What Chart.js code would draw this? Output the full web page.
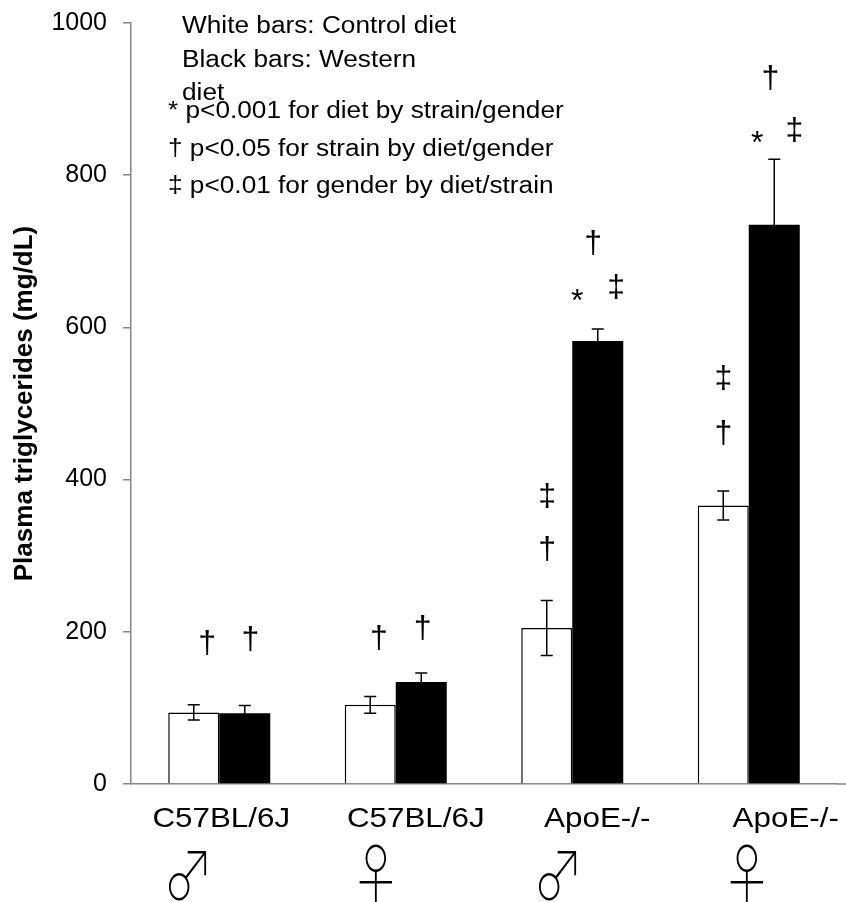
<!DOCTYPE html>
<html>
<head>
<meta charset="utf-8">
<script src="https://cdn.jsdelivr.net/npm/chart.js@4"></script>
<style>
  html, body { margin: 0; padding: 0; background: #fff; }
  #wrap { width: 846px; height: 902px; }
</style>
</head>
<body>
<div id="wrap"><canvas id="chart" width="846" height="902"></canvas></div>
<script>
// ---- data ----
const strains = ['C57BL/6J', 'C57BL/6J', 'ApoE-/-', 'ApoE-/-'];
const genders = ['\u2642', '\u2640', '\u2642', '\u2640'];
const controlDiet = [94, 104, 205, 366];
const controlErr = [10, 11, 36, 19];
const westernDiet = [93, 134, 582, 735];
const westernErr = [10, 12, 16, 86];
const yTicks = [0, 200, 400, 600, 800, 1000];

// significance marks: category, offset inside the category, value, symbol
const markCat = [0, 0, 1, 1, 2, 2, 2, 2, 2, 3, 3, 3, 3, 3];
const markOffset = [-0.068, 0.176, -0.096, 0.153, -0.142, -0.142, 0.119, 0.028, 0.249, -0.144, -0.144, 0.122, 0.048, 0.258];
const markValue = [184, 189, 190, 204, 377, 307, 710, 633, 652, 532, 460, 926, 841, 858];
const markSymbol = ['\u2020', '\u2020', '\u2020', '\u2020', '\u2021', '\u2020', '\u2020', '*', '\u2021', '\u2021', '\u2020', '\u2020', '*', '\u2021'];

const notes = ['White bars: Control diet', 'Black bars: Western', 'diet'];
const keys = [
  '* p<0.001 for diet by strain/gender',
  '\u2020 p<0.05 for strain by diet/gender',
  '\u2021 p<0.01 for gender by diet/strain'
];

const axisGray = '#868686';
const sans = '"Liberation Sans", Arial, sans-serif';

// stretched text, like the original picture
function wideText(ctx, text, x, y, sx, sy = 1) {
  ctx.save();
  ctx.translate(x, y);
  ctx.scale(sx, sy);
  ctx.fillText(text, 0, 0);
  ctx.restore();
}

/* ======================================================
   Error bars
====================================================== */
const errorBars = {
  id: 'errorBars',
  afterDatasetsDraw(chart) {
    const { ctx, scales: { y } } = chart;
    ctx.save();
    ctx.strokeStyle = '#000';
    ctx.lineWidth = 1.5;
    [controlErr, westernErr].forEach((errs, d) => {
      const values = chart.data.datasets[d].data;
      chart.getDatasetMeta(d).data.forEach((bar, i) => {
        const top = y.getPixelForValue(values[i] + errs[i]);
        const bot = y.getPixelForValue(values[i] - errs[i]);
        ctx.beginPath();
        ctx.moveTo(bar.x, top); ctx.lineTo(bar.x, bot);
        ctx.moveTo(bar.x - 6, top); ctx.lineTo(bar.x + 6, top);
        ctx.moveTo(bar.x - 6, bot); ctx.lineTo(bar.x + 6, bot);
        ctx.stroke();
      });
    });
    ctx.restore();
  }
};

/* ======================================================
   Marks, notes and category labels
====================================================== */
const labelShift = [2, 20, 25, 37];
const genderShift = [-31, -20, -14, -2];

const texts = {
  id: 'texts',
  afterDraw(chart) {
    const { ctx, chartArea, scales: { x, y } } = chart;
    ctx.save();
    ctx.fillStyle = '#000';

    // x axis runs to the edge
    ctx.strokeStyle = axisGray;
    ctx.lineWidth = 1.5;
    ctx.beginPath();
    ctx.moveTo(chartArea.right, chartArea.bottom);
    ctx.lineTo(chart.width, chartArea.bottom);
    ctx.stroke();

    // significance marks
    ctx.textAlign = 'center';
    ctx.textBaseline = 'middle';
    ctx.font = '32px ' + sans;
    markSymbol.forEach((s, i) => {
      ctx.fillText(s, x.getPixelForValue(markCat[i] + markOffset[i]), y.getPixelForValue(markValue[i]));
    });

    // notes
    ctx.textAlign = 'left';
    ctx.textBaseline = 'alphabetic';
    ctx.font = '23px ' + sans;
    const noteBase = [33, 67, 100];
    notes.forEach((t, i) => wideText(ctx, t, 182, noteBase[i], 1.14));
    const keyBase = [118, 156, 193];
    keys.forEach((t, i) => wideText(ctx, t, 168, keyBase[i], 1.14));

    // category labels
    ctx.textAlign = 'center';
    ctx.font = '28px ' + sans;
    strains.forEach((s, i) => {
      wideText(ctx, s, x.getPixelForValue(i) + labelShift[i], 827, 1.12);
    });
    ctx.textBaseline = 'middle';
    ctx.font = '100 64px "Noto Sans CJK JP", "DejaVu Sans", sans-serif';
    genders.forEach((g, i) => {
      wideText(ctx, g, x.getPixelForValue(i) + genderShift[i], 874, 0.8, 1.05);
    });
    ctx.restore();
  }
};

new Chart(document.getElementById('chart'), {
  type: 'bar',
  data: {
    labels: strains,
    datasets: [
      {
        label: 'Control diet',
        data: controlDiet,
        backgroundColor: '#fff',
        borderColor: '#000',
        borderWidth: 1.5,
        categoryPercentage: 0.578,
        barPercentage: 1
      },
      {
        label: 'Western diet',
        data: westernDiet,
        backgroundColor: '#000',
        borderColor: '#000',
        borderWidth: 0,
        categoryPercentage: 0.578,
        barPercentage: 1
      }
    ]
  },
  options: {
    responsive: false,
    animation: false,
    devicePixelRatio: 1,
    layout: { padding: { top: 23, right: 9, bottom: 0, left: 0 } },
    plugins: {
      legend: { display: false },
      tooltip: { enabled: false }
    },
    scales: {
      x: {
        grid: { display: false },
        border: { color: axisGray, width: 1.5 },
        ticks: { display: false },
        afterFit: s => { s.height = 118; }
      },
      y: {
        min: 0,
        max: 1000,
        afterBuildTicks: s => { s.ticks = yTicks.map(v => ({ value: v })); },
        afterFit: s => { s.width = 131; s.paddingTop = 0; s.paddingBottom = 0; },
        grid: { drawOnChartArea: false, drawTicks: true, tickLength: 8, color: axisGray, lineWidth: 1.5 },
        border: { color: axisGray, width: 1.5 },
        ticks: {
          color: '#000',
          padding: 16,
          font: { family: sans, size: 25 },
          callback: v => String(v)
        },
        title: {
          display: true,
          text: 'Plasma triglycerides (mg/dL)',
          color: '#000',
          padding: { top: 9, bottom: 0 },
          font: { family: sans, size: 26, weight: 'bold' }
        }
      }
    }
  },
  plugins: [errorBars, texts]
});
</script>
</body>
</html>
